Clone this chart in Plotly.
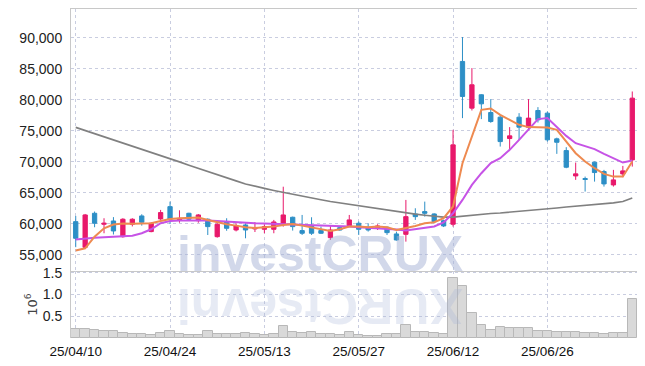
import plotly.graph_objects as go

dates = ["25/04/10","25/04/11","25/04/14","25/04/15","25/04/16","25/04/17","25/04/18","25/04/21","25/04/22","25/04/23",
         "25/04/24","25/04/25","25/04/28","25/04/29","25/04/30","25/05/02","25/05/07","25/05/08","25/05/09","25/05/12",
         "25/05/13","25/05/14","25/05/15","25/05/16","25/05/19","25/05/20","25/05/21","25/05/22","25/05/23","25/05/26",
         "25/05/27","25/05/28","25/05/29","25/05/30","25/06/02","25/06/04","25/06/05","25/06/09","25/06/10","25/06/11",
         "25/06/12","25/06/13","25/06/16","25/06/17","25/06/18","25/06/19","25/06/20","25/06/23","25/06/24","25/06/25",
         "25/06/26","25/06/27","25/06/30","25/07/01","25/07/02","25/07/03","25/07/04","25/07/07","25/07/08","25/07/09"]

open_ = [60370,56240,61720,59950,60480,57950,59950,61290,58770,60810,
         62790,60600,61720,60530,60760,57950,60400,59030,59840,59200,
         59140,59140,60000,61080,58930,59680,58930,57790,59400,59730,
         60110,59470,59350,59470,58390,58330,61610,61990,61610,60530,
         59950,86180,78660,80810,77950,77200,73760,77200,75590,78280,
         77850,73710,71820,67740,67320,69950,68440,66290,68060,70320]
high = [61290,61610,62000,60920,61100,60920,60920,61560,60270,62260,
        63600,62200,61800,61600,60900,60110,60920,60100,60100,60300,
        59950,60650,66000,61180,61450,61080,59570,59680,59570,61450,
        60400,60110,59950,59570,58760,63870,62530,63600,61720,60700,
        75160,90110,85110,80900,80110,77580,75600,77850,80110,78820,
        78110,73900,72370,69890,67630,70050,68710,68710,69350,81340]
low = [56260,56080,59470,58500,58300,57790,59600,59730,58660,60650,
       60000,60200,60480,60200,58220,57790,58900,58800,57690,58700,
       58500,58500,59570,58930,58230,58230,58390,57420,58900,59570,
       58230,58770,59030,58230,57310,57150,60650,61180,60110,59500,
       59570,77050,78280,76890,76300,72470,71940,73550,75100,76340,
       73270,71290,68980,67100,65220,66820,66020,66020,67530,69240]
close = [57690,61450,60110,60110,58870,60760,60760,60270,60110,61830,
         60760,60900,60760,61450,59570,59950,59300,59730,59030,59350,
         59570,60320,61450,59570,58500,58500,58500,59030,59030,60650,
         59140,59030,59680,58600,57420,61180,61180,61720,60370,59680,
         72740,80540,82420,79350,76500,73270,74190,75590,77050,76780,
         73550,73160,69140,68070,67160,68280,66450,67100,68550,80270]

ma5 = [55730,56080,57950,59300,59920,60080,60050,60050,60110,60480,
       60810,60920,61020,61020,60650,60270,59950,59730,59470,59350,
       59470,59570,59840,60000,59730,59470,59140,58870,59140,59570,
       59570,59470,59570,59470,59030,59300,59680,60110,60270,60920,
       62820,69790,74080,78390,78600,77580,76770,75970,75600,75530,
       75530,75160,73270,71400,70050,68980,68060,67630,67630,70050]
ma20 = [57500,57660,57770,57850,57900,57950,58110,58500,59140,60110,
        60480,60560,60600,60600,60560,60480,60370,60270,60190,60110,
        60080,60030,60000,59950,59890,59840,59770,59730,59680,59600,
        59470,59400,59350,59300,59110,58950,59190,59400,59600,60240,
        61720,63870,66290,68170,69790,70590,71940,73550,75160,76890,
        77050,75690,74190,73010,72580,72050,71290,70600,69890,70210]
ma120 = [75560,75065,74550,74030,73550,73030,72520,72020,71520,71020,
         70520,70000,69470,68950,68390,67900,67420,66940,66450,66050,
         65730,65400,65080,64760,64470,64190,63900,63630,63390,63150,
         62900,62660,62420,62210,61980,61770,61580,61400,61240,61100,
         61100,61260,61420,61560,61680,61770,61890,62000,62130,62260,
         62420,62580,62740,62850,62970,63100,63230,63390,63630,64190]

volume = [210000,210000,180000,160000,160000,120000,95000,90000,70000,120000,
          150000,100000,70000,70000,150000,100000,90000,90000,120000,100000,
          70000,100000,270000,130000,120000,130000,90000,90000,70000,130000,
          70000,57000,57000,90000,100000,290000,130000,140000,120000,95000,
          1370000,1190000,570000,300000,190000,250000,230000,230000,230000,170000,
          155000,140000,140000,140000,120000,120000,95000,120000,120000,890000]

price_ticks = [55000,60000,65000,70000,75000,80000,85000,90000]
vol_ticks = [500000,1000000,1500000]
vol_tick_text = ["0.5","1.0","1.5"]
x_ticks = dates[::10]

UP = "#E8196B"
DOWN = "#2D8FC6"
GRID = "#c9cde0"
FONT = "Liberation Sans, Arial, sans-serif"

fig = go.Figure()
fig.add_trace(go.Bar(x=dates, y=volume, xaxis="x2", yaxis="y2",
                     marker=dict(color="#d9d9d9", line=dict(color="#b8b8b8", width=1)),
                     showlegend=False))
fig.add_trace(go.Candlestick(x=dates, open=open_, high=high, low=low, close=close,
                             increasing=dict(line=dict(color=UP, width=1), fillcolor=UP),
                             decreasing=dict(line=dict(color=DOWN, width=1), fillcolor=DOWN),
                             whiskerwidth=0, showlegend=False))
fig.add_trace(go.Scatter(x=dates, y=ma120, mode="lines", line=dict(color="#808080", width=1.6), showlegend=False))
fig.add_trace(go.Scatter(x=dates, y=ma20, mode="lines", line=dict(color="#C653E6", width=2), showlegend=False))
fig.add_trace(go.Scatter(x=dates, y=ma5, mode="lines", line=dict(color="#EE8A50", width=2), showlegend=False))

H_PLOT = 329.0
vol_frac = 67.0 / H_PLOT

axis_common = dict(type="category", range=[-0.5, 59.5], categoryorder="array", categoryarray=dates,
                   tickvals=x_ticks, showgrid=True, gridcolor=GRID, griddash="dot", gridwidth=1,
                   zeroline=False, automargin=False)
fig.update_layout(
    width=645, height=366,
    margin=dict(l=71, r=8, t=9, b=28),
    paper_bgcolor="white", plot_bgcolor="white",
    bargap=0, boxgap=0.35,
    xaxis=dict(**axis_common, domain=[0, 1], anchor="y", showticklabels=False,
               showline=True, linecolor="#c8c8c8", mirror=True, rangeslider=dict(visible=False)),
    yaxis=dict(domain=[vol_frac, 1], range=[52420, 94630], tickvals=price_ticks, tickformat=",d",
               showgrid=True, gridcolor=GRID, griddash="dot", zeroline=False, automargin=False,
               showline=True, linecolor="#c8c8c8", ticklabelstandoff=5,
               tickfont=dict(family=FONT, size=14, color="#222")),
    xaxis2=dict(**axis_common, domain=[0, 1], anchor="y2", matches="x",
                ticktext=x_ticks, ticklabelstandoff=3,
                tickfont=dict(family=FONT, size=13.5, color="#111"),
                showline=False),
    yaxis2=dict(domain=[0, vol_frac], range=[0, 1540000], tickvals=vol_ticks, ticktext=vol_tick_text,
                showgrid=True, gridcolor=GRID, griddash="dot", zeroline=False, automargin=False,
                showline=True, linecolor="#c8c8c8", ticklabelstandoff=5,
                tickfont=dict(family=FONT, size=14, color="#222"),
                title=dict(text="10<sup>6</sup>", standoff=2, font=dict(family="DejaVu Sans", size=13, color="#444"))),
)

# watermark
wm_font = "Liberation Sans, Arial, sans-serif"
def px_to_paper_x(px):
    return (px - 71) / 566.0
def px_to_paper_y(py):
    return (338.0 - py) / H_PLOT

fig.add_annotation(text="<b>investCRUX</b>", x=px_to_paper_x(320), y=px_to_paper_y(253.5),
                   xref="paper", yref="paper", showarrow=False, xanchor="center", yanchor="middle",
                   font=dict(family=wm_font, size=50, color="rgba(165,178,214,0.5)"))
letters = list("investCRUX")
widths = [0.278, 0.611, 0.556, 0.556, 0.556, 0.333, 0.722, 0.722, 0.722, 0.667]
fs = 50
total = sum(widths) * fs
start = 320 - total / 2
cum = 0
for ch, w in zip(letters, widths):
    cx = start + cum + w * fs / 2
    cum += w * fs
    fig.add_annotation(text="<b>%s</b>" % ch, x=px_to_paper_x(cx), y=px_to_paper_y(306),
                       xref="paper", yref="paper", showarrow=False, xanchor="center", yanchor="middle",
                       textangle=180,
                       font=dict(family=wm_font, size=fs, color="rgba(165,178,214,0.28)"))

fig.write_html("out.html")
